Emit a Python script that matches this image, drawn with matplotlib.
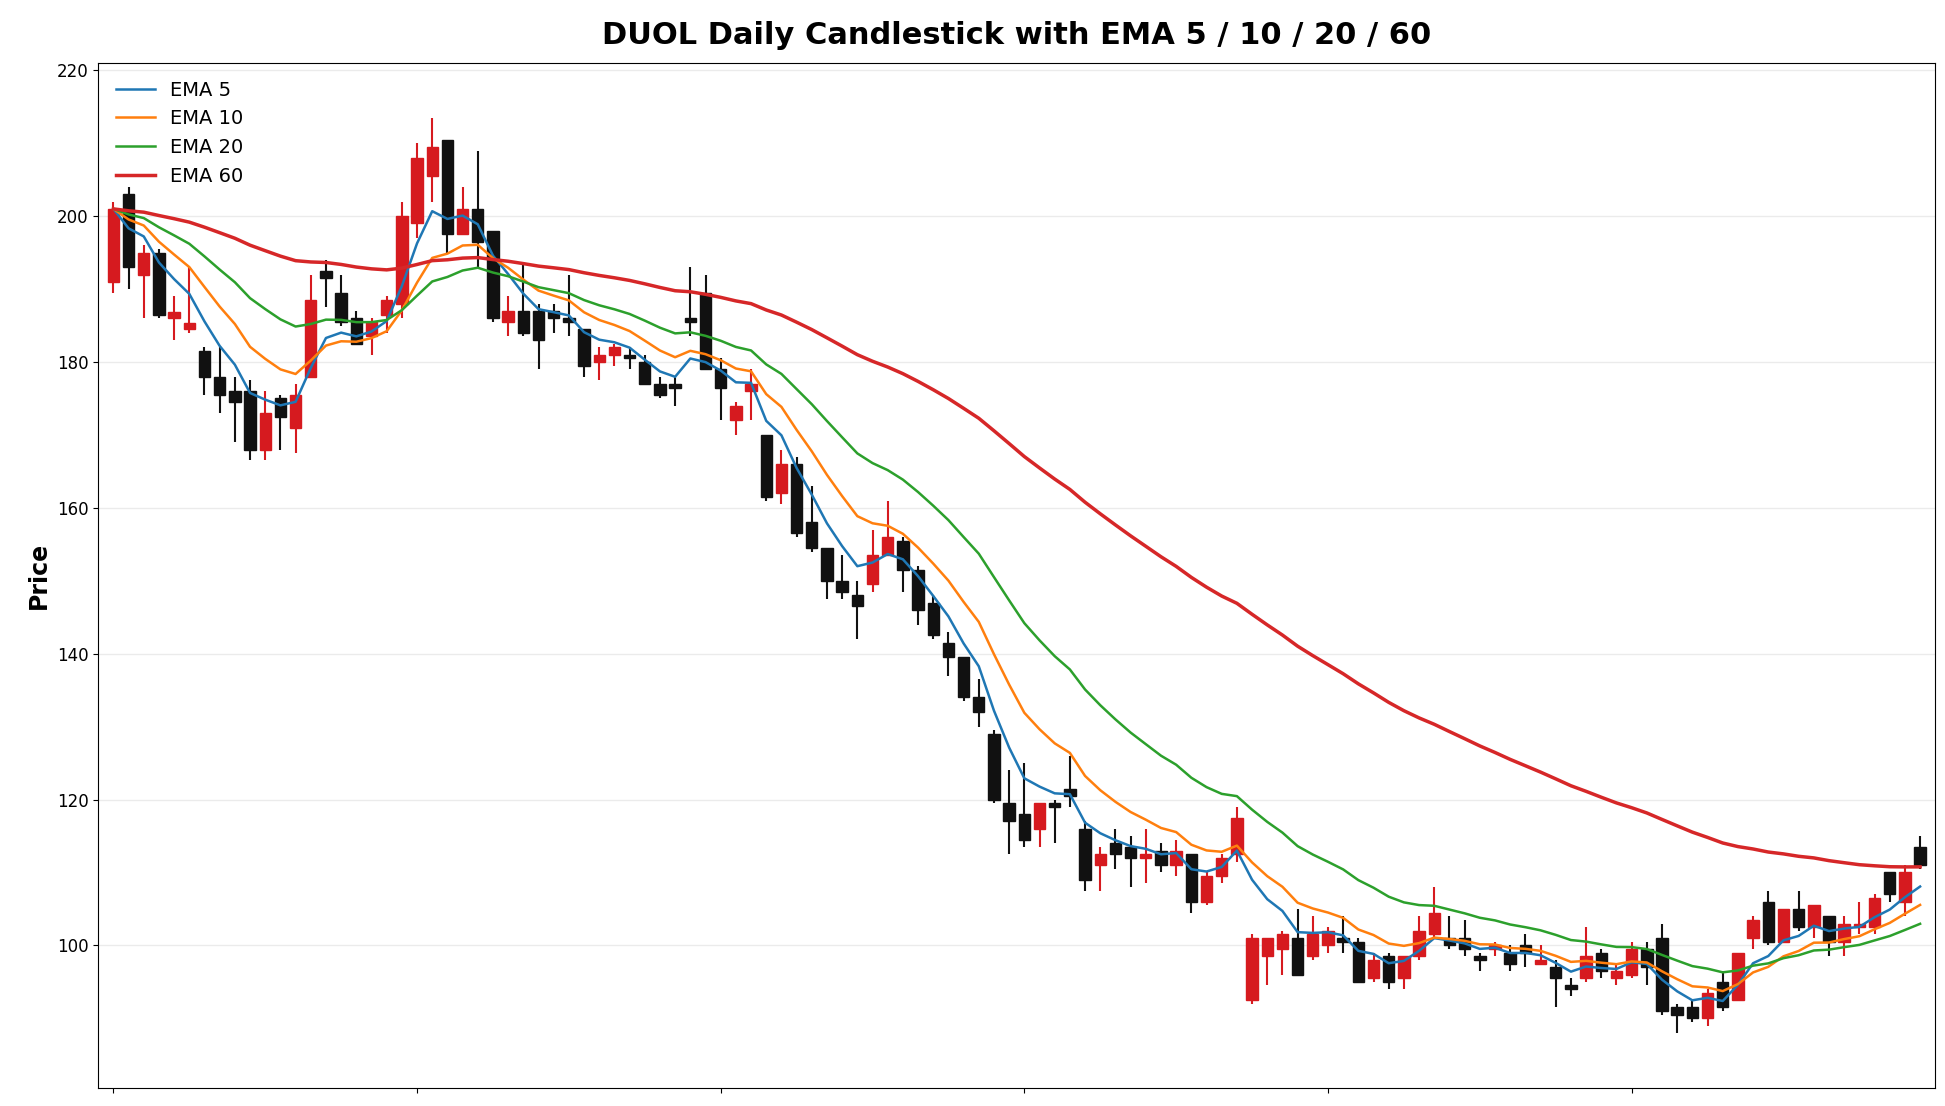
import matplotlib
matplotlib.use("Agg")
import matplotlib.pyplot as plt
import numpy as np
import pandas as pd

opens = [191,203,192,195,186,184.5,181.5,178,176,176,168,175,171,178,192.5,189.5,186,183.5,186.5,188,
         199,205.5,210.5,197.5,201,198,185.5,187,187,187,186,184.5,180,181,181,180,177,177,186,189.5,
         179,172,176,170,162,166,158,154.5,150,148,149.5,153.5,155.5,151.5,147,141.5,139.5,134,129,119.5,
         118,116,119.5,121.5,116,111,114,113.5,112,113,111,112.5,106,109.5,112.5,92.5,98.5,99.5,101,98.5,
         100,101,100.5,95.5,98.5,95.5,98.5,101.5,101,101,98.5,99.5,99,100,97.5,97,94.5,95.5,99,95.5,
         96,99.5,101,91.5,91.5,90,95,92.5,101,106,100.5,105,102.5,104,100.5,102.5,102.5,110,106,113.5]
highs = [202,204,196,195.5,189,193,182,182,178,177.5,176,175.5,177,192,194,192,187,186,189,202,
         210,213.5,210.5,204,209,198,189,193.5,188,188,192,184.5,182,182.5,182,181,178,178,193,192,
         180.5,174.5,179,170,168,167,163,154.5,153.5,150,157,161,156,152,148,143,139.5,136.5,129.5,124,
         125,119.5,120,126,117,113.5,116,115,116,114,114.5,112.5,110,112.5,119,101.5,101,102,105,104,
         102.5,104,101,99,99,98.5,104,108,104,103.5,99,100.5,100,101.5,100,98,95.5,102.5,99.5,97.5,
         100.5,100.5,103,92,92.5,94,96.5,99,104,107.5,105,107.5,105.5,104,104,106,107,110,111,115]
lows = [189.5,190,186,186,183,184,175.5,173,169,166.5,166.5,168,167.5,178,187.5,185,182.5,181,184,186,
        197,202,195,197.5,193,185.5,183.5,183.5,179,184,183.5,178,177.5,179.5,179,177,175,174,183.5,179,
        172,170,172,161,160.5,156,154,147.5,147.5,142,148.5,153.5,148.5,144,142,137,133.5,130,119.5,112.5,
        113.5,113.5,114,119,107.5,107.5,110.5,108,108.5,110,109.5,104.5,105.5,108.5,111.5,92,94.5,96,96,98,
        99,99,95,95,94,94,98,101,99.5,98.5,96.5,98.5,96.5,97,97.5,91.5,93,95,95.5,94.5,
        95.5,94.5,90.5,88,89.5,89,91,92.5,99.5,100,100.5,102,101,98.5,98.5,101.5,101.5,106,104,110.5]
closes = [201,193,195,186.5,186.8,185.3,178,175.5,174.5,168,173,172.5,175.5,188.5,191.5,185.5,182.5,185.5,188.5,200,
          208,209.5,197.5,201,196.5,186,187,184,183,186,185.5,179.5,181,182,180.5,177,175.5,176.5,185.5,179,
          176.5,174,177,161.5,166,156.5,154.5,150,148.5,146.5,153.5,156,151.5,146,142.5,139.5,134,132,120,117,
          114.5,119.5,119,120.5,109,112.5,112.5,112,112.5,111,113,106,109.5,112,117.5,101,101,101.5,96,101.5,
          102,100.5,95,98,95,98.5,102,104.5,100,99.5,98,100,97.5,99,98,95.5,94,98.5,96.5,96.5,
          99.5,97,91,90.5,90,93.5,91.5,99,103.5,100.5,105,102.5,105.5,100.5,103,103,106.5,107,110,111]

ema_spans = [5, 10, 20, 60]
ema_colors = ['#1f77b4', '#ff7f0e', '#2ca02c', '#d62728']

x = np.arange(len(closes))
o = np.array(opens); h = np.array(highs); l = np.array(lows); c = np.array(closes)

fig = plt.figure(figsize=(19.45, 11.06), dpi=100)
ax = fig.add_axes([0.0505, 0.016, 0.9445, 0.927])

up_col = '#d61a1f'
dn_col = '#111111'
for i in range(len(x)):
    col = up_col if c[i] >= o[i] else dn_col
    ax.vlines(x[i], l[i], h[i], color=col, linewidth=1.5, zorder=2)
    bot = min(o[i], c[i]); ht = max(abs(c[i] - o[i]), 0.4)
    ax.bar(x[i], ht, bottom=bot, width=0.75, color=col, edgecolor=col, linewidth=1, zorder=3)

s = pd.Series(closes)
for span, colr in zip(ema_spans, ema_colors):
    lw = 2.5 if span == 60 else 1.8
    ax.plot(x, s.ewm(span=span, adjust=False).mean(), color=colr, linewidth=lw, label=f'EMA {span}', zorder=4)

ax.set_xlim(-1, 120)
ax.set_ylim(80.4, 221)
ax.set_xticks(np.arange(0, 120, 20))
ax.set_xticklabels([])
ax.set_yticks(np.arange(100, 221, 20))
ax.tick_params(axis='y', labelsize=12)
ax.grid(axis='y', color='#ebebeb', linewidth=1)
ax.set_axisbelow(True)
ax.set_ylabel('Price', fontsize=17, fontweight='bold')
ax.set_title('DUOL Daily Candlestick with EMA 5 / 10 / 20 / 60', fontsize=22, fontweight='bold', pad=14)
ax.legend(loc='upper left', fontsize=14, frameon=False)
fig.savefig('out.png', dpi=100)
